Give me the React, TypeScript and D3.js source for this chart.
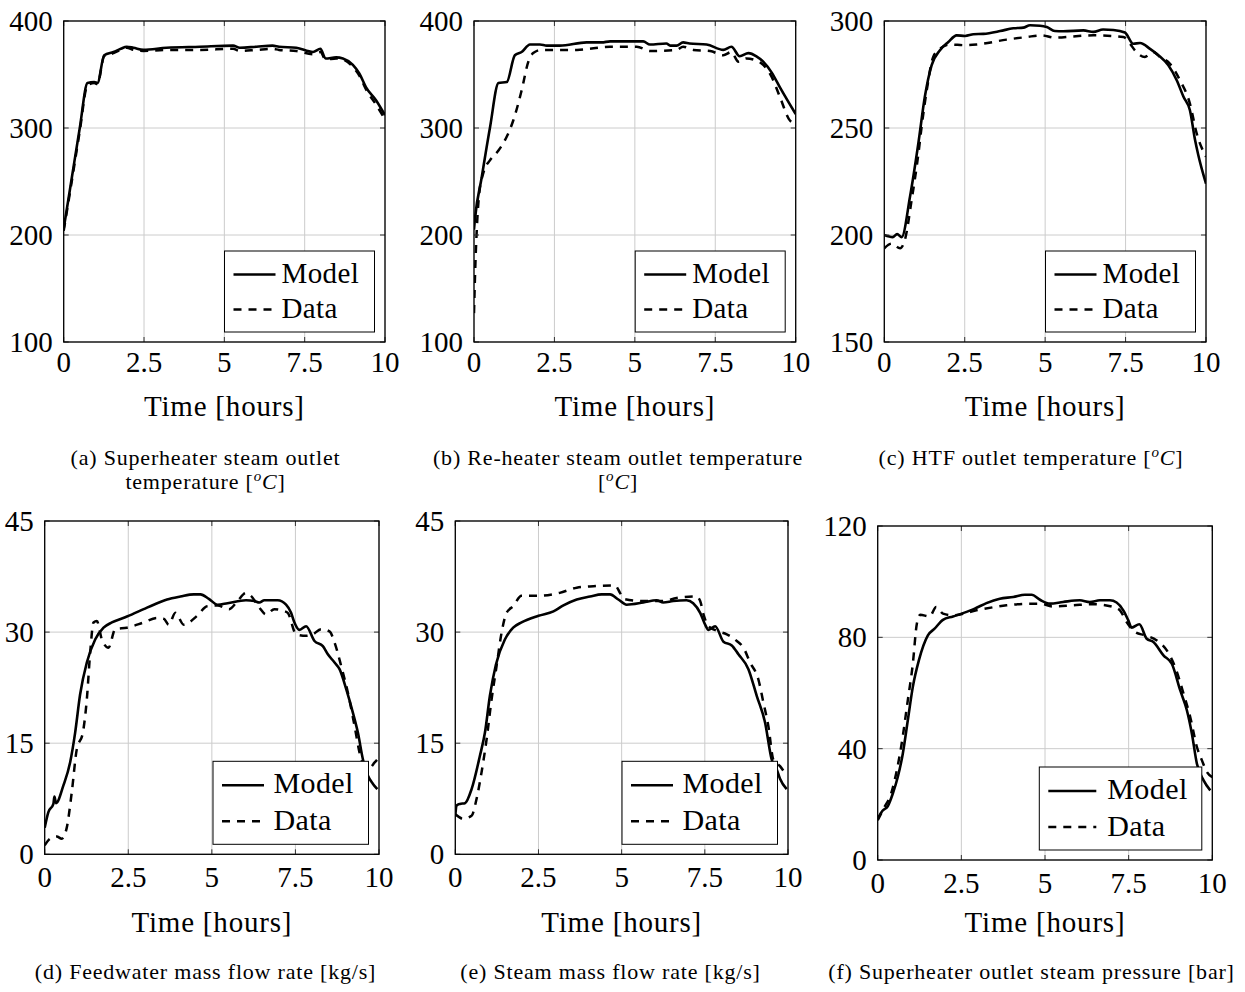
import React from "react";
import * as d3 from "d3";

// ---------- data ----------
const xTickValues = [0, 2.5, 5, 7.5, 10];
const xTickLabels = ["0", "2.5", "5", "7.5", "10"];

const yTicksA = [100, 200, 300, 400];
const yTicksB = [100, 200, 300, 400];
const yTicksC = [150, 200, 250, 300];
const yTicksD = [0, 15, 30, 45];
const yTicksE = [0, 15, 30, 45];
const yTicksF = [0, 40, 80, 120];

// (a) Superheater steam outlet temperature
const modelTimeA = [0, 0.25, 0.5, 0.74, 0.95, 1.05, 1.26, 1.55, 1.78, 1.96, 2.17, 2.48, 3.2, 4.24, 5.27, 5.48, 6.0, 6.5, 6.7, 7.24, 7.76, 7.99, 8.15, 8.48, 8.69, 9.0, 9.2, 9.41, 9.72, 10];
const modelA = [206, 253, 300, 342, 343, 342, 368, 371, 374, 376, 375, 373, 375, 376, 377, 375, 376, 377, 376, 375, 371, 374, 365, 366, 365, 359, 351, 338, 326, 312];
const dataTimeA = [0, 0.25, 0.5, 0.74, 0.95, 1.05, 1.26, 1.55, 1.78, 1.96, 2.17, 2.48, 3.2, 4.24, 5.27, 5.48, 6.0, 6.5, 6.7, 7.24, 7.76, 7.99, 8.15, 8.48, 8.69, 9.0, 9.2, 9.41, 9.72, 10];
const dataA = [204, 250, 297, 340, 342, 341, 367, 370, 373, 375, 373, 372, 373, 373, 374, 372, 373, 374, 373, 372, 369, 371, 364, 365, 364, 357, 349, 336, 322, 308];

// (b) Re-heater steam outlet temperature
const modelTimeB = [0, 0.02, 0.24, 0.5, 0.76, 1.02, 1.27, 1.48, 1.74, 2.05, 2.26, 2.67, 3.5, 3.97, 4.23, 5.26, 5.47, 5.98, 6.1, 6.3, 6.5, 6.7, 7.23, 7.75, 8.0, 8.26, 8.53, 8.78, 8.99, 9.25, 9.51, 10];
const modelB = [205, 212, 254, 301, 342, 343, 368, 371, 378, 378, 377, 377, 380, 380, 381, 381, 378, 379, 377, 377, 380, 379, 378, 373, 376, 367, 370, 367, 362, 352, 338, 313];
const dataTimeB = [0, 0.04, 0.08, 0.15, 0.29, 0.5, 0.76, 1.02, 1.22, 1.48, 1.69, 1.84, 2.1, 3.2, 4.23, 5.06, 5.47, 6.3, 6.5, 6.82, 7.34, 7.75, 8.0, 8.22, 8.47, 8.78, 8.99, 9.25, 9.51, 9.82, 10];
const dataB = [127, 170, 201, 235, 258, 270, 279, 292, 307, 335, 362, 370, 373, 373, 376, 376, 372, 373, 376, 373, 372, 368, 371, 362, 365, 363, 359, 348, 329, 307, 304];

// (c) HTF outlet temperature
const modelTimeC = [0, 0.26, 0.4, 0.54, 0.8, 1.06, 1.26, 1.47, 1.73, 1.99, 2.25, 2.51, 2.77, 3.08, 3.6, 4.01, 4.32, 4.53, 4.84, 5.05, 5.3, 5.56, 6.19, 6.5, 6.8, 7.12, 7.48, 7.74, 7.95, 8.26, 8.52, 8.83, 9.09, 9.3, 9.5, 9.66, 9.76, 10];
const modelC = [200, 199, 200.4, 199, 218, 243, 264.6, 279.3, 286.3, 290.2, 293.3, 293, 293.8, 294, 295.3, 296.6, 296.9, 298, 297.8, 297.2, 295.3, 295.2, 295.6, 294.9, 296, 295.8, 294.6, 289.4, 289.7, 287, 284, 279.3, 272.3, 264.6, 258.3, 244.4, 237.4, 224];
const dataTimeC = [0, 0.23, 0.49, 0.64, 0.85, 1.06, 1.16, 1.32, 1.52, 1.73, 2.04, 2.51, 2.87, 3.8, 4.42, 4.89, 5.3, 5.87, 6.5, 7.43, 7.64, 7.79, 8.1, 8.36, 8.57, 8.88, 9.19, 9.5, 9.71, 10];
const dataC = [193.8, 196, 193.8, 197.7, 216.4, 238, 250.6, 267.7, 283.2, 287, 289, 288.7, 289, 291.3, 292.5, 293.3, 292.2, 292.8, 293.3, 292.5, 289.4, 286.3, 283.2, 285.5, 283.2, 280, 272.3, 261.4, 247.5, 236.6];

// (d) Feedwater mass flow rate
const modelTimeD = [0, 0.11, 0.26, 0.29, 0.34, 0.56, 0.76, 0.91, 1.06, 1.26, 1.51, 1.76, 2.01, 2.46, 2.96, 3.26, 3.66, 4.06, 4.46, 4.66, 4.91, 5.17, 5.47, 6.02, 6.27, 6.42, 6.57, 6.97, 7.22, 7.37, 7.47, 7.62, 7.82, 8.07, 8.32, 8.47, 8.67, 8.82, 9.02, 9.22, 9.37, 9.52, 9.67, 9.82, 9.95];
const modelD = [3.6, 5.7, 6.8, 7.8, 6.9, 9.3, 12.4, 16.4, 21.6, 25.9, 29, 30.6, 31.3, 32.1, 33.1, 33.7, 34.4, 34.8, 35.1, 35.1, 34.5, 33.7, 33.9, 34.3, 34.2, 34, 34.3, 34.3, 33.7, 32.6, 31.3, 30.3, 30.8, 28.8, 28.1, 27, 25.9, 25, 22.3, 19.1, 16.4, 12.8, 10.6, 9.5, 8.8];
const dataTimeD = [0, 0.16, 0.36, 0.51, 0.66, 0.81, 0.96, 1.14, 1.26, 1.36, 1.46, 1.56, 1.71, 1.91, 2.11, 2.46, 2.96, 3.36, 3.56, 3.71, 3.91, 4.16, 4.56, 4.86, 5.17, 5.52, 5.77, 6.02, 6.17, 6.42, 6.62, 6.87, 7.12, 7.27, 7.52, 7.82, 8.02, 8.27, 8.52, 8.67, 8.87, 9.07, 9.27, 9.42, 9.57, 9.72, 9.87, 9.95];
const dataD = [1.2, 2.1, 2.4, 2.1, 3.6, 8.4, 14.2, 16.4, 20.9, 27.2, 31.3, 31.5, 29, 27.9, 30.4, 30.6, 31.3, 31.9, 31.8, 31, 32.6, 31, 32.2, 33.5, 33.6, 33.1, 34.2, 35.3, 34.9, 33.3, 32.4, 33.1, 32.9, 32.6, 29.7, 29.5, 29.7, 30.4, 30.1, 28.6, 25.4, 21.8, 17.3, 13.7, 11.9, 11.7, 12.4, 12.8];

// (e) Steam mass flow rate
const modelTimeE = [0, 0.04, 0.14, 0.29, 0.49, 0.74, 0.89, 1.04, 1.22, 1.49, 1.74, 1.99, 2.5, 2.95, 3.25, 3.65, 4.05, 4.4, 4.65, 4.9, 5.15, 5.65, 6.05, 6.25, 6.55, 6.95, 7.15, 7.36, 7.51, 7.61, 7.81, 8.06, 8.31, 8.51, 8.81, 9.06, 9.31, 9.51, 9.66, 9.76, 9.96];
const modelE = [5.3, 6.6, 6.8, 6.9, 8.8, 13.3, 16.4, 21.4, 25.6, 29, 30.6, 31.3, 32.2, 32.8, 33.6, 34.4, 34.8, 35.1, 35.1, 34.4, 33.7, 34, 34.3, 34, 34.2, 34.3, 33.9, 32.6, 31, 30.3, 30.8, 28.7, 28.2, 27, 25, 21.4, 17.8, 12.8, 11.5, 10.2, 8.8];
const dataTimeE = [0, 0.24, 0.49, 0.64, 0.79, 0.94, 1.09, 1.24, 1.39, 1.54, 1.74, 1.99, 2.5, 3.14, 3.65, 4.15, 4.8, 4.95, 5.05, 5.65, 6.25, 6.65, 7.25, 7.36, 7.46, 7.61, 7.91, 8.16, 8.46, 8.66, 8.86, 9.11, 9.26, 9.41, 9.56, 9.76, 9.96];
const dataE = [5.4, 4.8, 5.2, 7.5, 11.1, 15.5, 20.9, 25.4, 29.9, 32.6, 33.5, 34.9, 34.9, 35.3, 36, 36.2, 36.3, 35.3, 34.5, 34.2, 34.2, 34.6, 34.8, 34.2, 32.4, 30.8, 30.1, 29.7, 28.8, 27.9, 25.9, 23.6, 20.5, 17.3, 12.8, 11.9, 10.6];

// (f) Superheater outlet steam pressure
const modelTimeF = [0, 0.15, 0.3, 0.45, 0.6, 0.75, 0.9, 1.05, 1.23, 1.5, 1.7, 1.95, 2.25, 2.55, 2.9, 3.25, 3.65, 4.05, 4.4, 4.6, 4.85, 5.15, 5.54, 6.04, 6.34, 6.64, 6.94, 7.14, 7.34, 7.49, 7.59, 7.82, 8.04, 8.24, 8.54, 8.79, 9.04, 9.24, 9.39, 9.54, 9.74, 9.94];
const modelF = [14.9, 17.8, 19.3, 23.8, 29.8, 38.2, 50.2, 62.2, 71.7, 80.7, 83.1, 86.3, 87.5, 88.7, 90.3, 92.3, 93.9, 94.5, 95.3, 95.3, 93.5, 92.1, 92.7, 93.3, 92.7, 93.3, 93.3, 92.5, 89.7, 86.1, 83.5, 84.7, 79.5, 78.3, 73.5, 70.5, 61, 53.8, 45.4, 34.6, 28.6, 25];
const dataTimeF = [0, 0.2, 0.4, 0.55, 0.7, 0.9, 1.05, 1.17, 1.27, 1.55, 1.75, 1.95, 2.25, 2.95, 3.85, 4.55, 4.85, 5.24, 5.84, 6.44, 7.04, 7.24, 7.44, 7.69, 7.99, 8.34, 8.64, 8.89, 9.14, 9.34, 9.54, 9.69, 9.84, 10];
const dataF = [14.3, 19, 23.8, 31, 40.6, 57.4, 70.5, 84.9, 88.1, 87.5, 90.9, 88.5, 87.9, 89.7, 91.5, 92.1, 92.1, 91.1, 91.5, 91.9, 90.9, 89.7, 85.5, 81.9, 80.7, 78.9, 75.3, 69.3, 59.8, 51.4, 40.6, 35.8, 31.6, 29.8];

const seriesNames = ["Model", "Data"];
const xAxisTitle = "Time [hours]";

// ---------- layout ----------
const FONT = "'Liberation Serif', 'Times New Roman', serif";
const DASH = "8,7";

type Panel = {
  id: string;
  L: number; R: number; T: number; B: number;
  yTicks: number[];
  mT: number[]; mV: number[]; dT: number[]; dV: number[];
  row: number;
  legW: number; legLine: number; legTextX: number;
};

const panels: Panel[] = [
  { id: "a", L: 63.7, R: 385, T: 21, B: 342, yTicks: yTicksA, mT: modelTimeA, mV: modelA, dT: dataTimeA, dV: dataA, row: 0, legW: 150, legLine: 42, legTextX: 57 },
  { id: "b", L: 474, R: 795.7, T: 21, B: 342, yTicks: yTicksB, mT: modelTimeB, mV: modelB, dT: dataTimeB, dV: dataB, row: 0, legW: 150, legLine: 42, legTextX: 57 },
  { id: "c", L: 884.3, R: 1206, T: 21, B: 342, yTicks: yTicksC, mT: modelTimeC, mV: modelC, dT: dataTimeC, dV: dataC, row: 0, legW: 150, legLine: 42, legTextX: 57 },
  { id: "d", L: 44.7, R: 379, T: 521, B: 854.3, yTicks: yTicksD, mT: modelTimeD, mV: modelD, dT: dataTimeD, dV: dataD, row: 1, legW: 155.5, legLine: 42, legTextX: 60.5 },
  { id: "e", L: 455.3, R: 788, T: 521, B: 854.3, yTicks: yTicksE, mT: modelTimeE, mV: modelE, dT: dataTimeE, dV: dataE, row: 1, legW: 155.5, legLine: 42, legTextX: 60.5 },
  { id: "f", L: 877.7, R: 1212.3, T: 526, B: 860, yTicks: yTicksF, mT: modelTimeF, mV: modelF, dT: dataTimeF, dV: dataF, row: 1, legW: 162.5, legLine: 48, legTextX: 68 },
];

function PanelView({ p }: { p: Panel }) {
  const x = d3.scaleLinear().domain([0, 10]).range([p.L, p.R]);
  const yDom = d3.extent(p.yTicks) as [number, number];
  const y = d3.scaleLinear().domain(yDom).range([p.B, p.T]);
  const line = d3
    .line<[number, number]>()
    .x((d) => x(d[0]))
    .y((d) => y(d[1]))
    .curve(d3.curveMonotoneX);
  const mPts = p.mT.map((t, i) => [t, p.mV[i]] as [number, number]);
  const dPts = p.dT.map((t, i) => [t, p.dV[i]] as [number, number]);
  const clipId = "clip-" + p.id;
  const tickFs = 29;
  const xTickBase = p.row === 0 ? 30 : 32.5;
  const legFs = p.row === 0 ? 29 : 30;
  const legH = p.row === 0 ? 81 : 83;
  const legR = p.R - 10.5;
  const legB = p.B - 10;
  const legL = legR - p.legW;
  const legT = legB - legH;
  const l1 = p.row === 0 ? 23.5 : 24;
  const b1 = 32;
  const l2 = p.row === 0 ? 58.5 : 60;
  const b2 = p.row === 0 ? 67 : 68.5;
  const titleY = p.row === 0 ? 415.5 : 931.5;

  return (
    <g>
      <defs>
        <clipPath id={clipId}>
          <rect x={p.L} y={p.T} width={p.R - p.L} height={p.B - p.T} />
        </clipPath>
      </defs>
      {/* grid */}
      {xTickValues.map((t) => (
        <line key={"gx" + t} x1={x(t)} x2={x(t)} y1={p.T} y2={p.B} stroke="#cccccc" strokeWidth={1} />
      ))}
      {p.yTicks.map((t) => (
        <line key={"gy" + t} x1={p.L} x2={p.R} y1={y(t)} y2={y(t)} stroke="#cccccc" strokeWidth={1} />
      ))}
      {/* series */}
      <g clipPath={`url(#${clipId})`}>
        <path d={line(dPts) || ""} fill="none" stroke="#000" strokeWidth={2.5} strokeDasharray={DASH} strokeLinejoin="round" />
        <path d={line(mPts) || ""} fill="none" stroke="#000" strokeWidth={2.6} strokeLinejoin="round" />
      </g>
      {/* ticks */}
      {xTickValues.map((t) => (
        <g key={"tx" + t}>
          <line x1={x(t)} x2={x(t)} y1={p.B} y2={p.B - 5} stroke="#333" strokeWidth={1} />
          <line x1={x(t)} x2={x(t)} y1={p.T} y2={p.T + 5} stroke="#333" strokeWidth={1} />
        </g>
      ))}
      {p.yTicks.map((t) => (
        <g key={"ty" + t}>
          <line x1={p.L} x2={p.L + 5} y1={y(t)} y2={y(t)} stroke="#333" strokeWidth={1} />
          <line x1={p.R} x2={p.R - 5} y1={y(t)} y2={y(t)} stroke="#333" strokeWidth={1} />
        </g>
      ))}
      {/* frame */}
      <rect x={p.L} y={p.T} width={p.R - p.L} height={p.B - p.T} fill="none" stroke="#000" strokeWidth={1.3} />
      {/* tick labels */}
      {xTickValues.map((t, i) => (
        <text key={"lx" + t} x={x(t)} y={p.B + xTickBase} textAnchor="middle" fontSize={tickFs} fontFamily={FONT}>
          {xTickLabels[i]}
        </text>
      ))}
      {p.yTicks.map((t) => (
        <text key={"ly" + t} x={p.L - 11} y={y(t) + 10} textAnchor="end" fontSize={tickFs} fontFamily={FONT}>
          {String(t)}
        </text>
      ))}
      {/* axis title */}
      <text x={(p.L + p.R) / 2} y={titleY} textAnchor="middle" fontSize={29} letterSpacing={0.8} fontFamily={FONT}>
        {xAxisTitle}
      </text>
      {/* legend */}
      <rect x={legL} y={legT} width={p.legW} height={legH} fill="#fff" stroke="#000" strokeWidth={1} />
      <line x1={legL + 9} x2={legL + 9 + p.legLine} y1={legT + l1} y2={legT + l1} stroke="#000" strokeWidth={2.6} />
      <line x1={legL + 9} x2={legL + 9 + p.legLine} y1={legT + l2} y2={legT + l2} stroke="#000" strokeWidth={2.5} strokeDasharray={DASH} />
      <text x={legL + p.legTextX} y={legT + b1} fontSize={legFs} letterSpacing={0.4} fontFamily={FONT}>
        {seriesNames[0]}
      </text>
      <text x={legL + p.legTextX} y={legT + b2} fontSize={legFs} letterSpacing={0.4} fontFamily={FONT}>
        {seriesNames[1]}
      </text>
    </g>
  );
}

function DegC() {
  return (
    <>
      {"["}
      <tspan fontStyle="italic" fontSize={15} dy={-8}>o</tspan>
      <tspan fontStyle="italic" dy={8}>C</tspan>
      {"]"}
    </>
  );
}

export default function App() {
  const capFs = 22;
  const capLs = 0.8;
  const capProps = { fontSize: capFs, letterSpacing: capLs, fontFamily: FONT, textAnchor: "middle" as const };
  return (
    <svg width={1245} height={992} style={{ position: "absolute", left: 0, top: 0, background: "#fff" }}>
      <rect x={0} y={0} width={1245} height={992} fill="#fff" />
      {panels.map((p) => (
        <PanelView key={p.id} p={p} />
      ))}
      {/* captions */}
      <text x={205.5} y={465} {...capProps}>(a) Superheater steam outlet</text>
      <text x={205.5} y={489} {...capProps}>temperature <DegC /></text>
      <text x={618} y={465} {...capProps}>(b) Re-heater steam outlet temperature</text>
      <text x={618} y={489} {...capProps}><DegC /></text>
      <text x={1031} y={465} {...capProps}>(c) HTF outlet temperature <DegC /></text>
      <text x={205.5} y={979} {...capProps}>(d) Feedwater mass flow rate [kg/s]</text>
      <text x={610.5} y={979} {...capProps}>(e) Steam mass flow rate [kg/s]</text>
      <text x={1031.5} y={979} {...capProps}>(f) Superheater outlet steam pressure [bar]</text>
    </svg>
  );
}
